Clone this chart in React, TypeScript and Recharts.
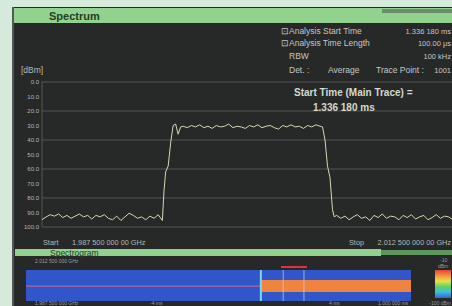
import { LineChart, Line, XAxis, YAxis, CartesianGrid, ComposedChart, ReferenceArea, ReferenceLine } from "recharts";

// frequency axis (MHz) and level axis (dBm)
const FREQ_TICKS = [1987.5, 1990, 1992.5, 1995, 1997.5, 2000, 2002.5, 2005, 2007.5, 2010, 2012.5];
const LEVEL_TICKS = [0, -10, -20, -30, -40, -50, -60, -70, -80, -90, -100];

// [freq MHz, level dBm]
const TRACE: [number, number][] = [
  [1987.5, -95], [1987.75, -93], [1988.0, -91.5], [1988.25, -92.5], [1988.5, -91], [1988.75, -93.5],
  [1989.0, -92], [1989.25, -94], [1989.5, -92.5], [1989.75, -91], [1990.0, -93], [1990.25, -92],
  [1990.5, -94.5], [1990.75, -92], [1991.0, -93], [1991.25, -91.5], [1991.5, -94], [1991.75, -95],
  [1992.0, -92.5], [1992.25, -95.5], [1992.5, -93], [1992.75, -90.5], [1993.0, -92], [1993.25, -94],
  [1993.5, -93], [1993.75, -95], [1994.0, -92.5], [1994.25, -94], [1994.5, -91.5], [1994.75, -95.5],
  [1994.85, -75], [1994.95, -62], [1995.1, -58], [1995.25, -42], [1995.4, -30], [1995.55, -29],
  [1995.7, -36], [1995.85, -31],
  [1996.0, -30.5], [1996.25, -31.5], [1996.5, -30], [1996.75, -31], [1997.0, -29.5], [1997.25, -31.5],
  [1997.5, -30.5], [1997.75, -32], [1998.0, -30], [1998.25, -31], [1998.5, -30.5], [1998.75, -29],
  [1999.0, -31.5], [1999.25, -30.5], [1999.5, -31], [1999.75, -32], [2000.0, -30], [2000.25, -31],
  [2000.5, -29.5], [2000.75, -31.5], [2001.0, -30.5], [2001.25, -30], [2001.5, -31.5], [2001.75, -32.5],
  [2002.0, -30], [2002.25, -31], [2002.5, -29.5], [2002.75, -31], [2003.0, -30.5], [2003.25, -32],
  [2003.5, -30], [2003.75, -31], [2004.0, -29.5], [2004.25, -30.5],
  [2004.4, -31], [2004.55, -40], [2004.7, -58], [2004.85, -66], [2005.0, -88], [2005.1, -93],
  [2005.25, -92], [2005.5, -94], [2005.75, -92.5], [2006.0, -95], [2006.25, -93], [2006.5, -91.5],
  [2006.75, -94], [2007.0, -93], [2007.25, -95.5], [2007.5, -92], [2007.75, -93.5], [2008.0, -91],
  [2008.25, -94], [2008.5, -92.5], [2008.75, -93], [2009.0, -95], [2009.25, -92], [2009.5, -93.5],
  [2009.75, -91.5], [2010.0, -94.5], [2010.25, -93], [2010.5, -92], [2010.75, -95], [2011.0, -93.5],
  [2011.25, -91.5], [2011.5, -94], [2011.75, -92.5], [2012.0, -93], [2012.25, -95], [2012.5, -92],
];

// spectrogram: time in % of the window, frequency as 0..1 of the span
const SPECTRO_EDGES = [0, 100];
const SIGNAL_ONSET = 61;
const SIGNAL_BAND = [0.29, 0.68];
const MARKERS = [66.8, 72.2];
const MARKER_SPAN = [66.2, 73.0];
const CENTER_LINE = 0.48;

const traceData = TRACE.map(([f, v]) => ({ f, v }));
const spectroData = SPECTRO_EDGES.map((t, i) => ({ t, y: i }));
const FONT = "'Liberation Sans', Arial, sans-serif";

export default function App() {
  return (
    <div style={{ position: "fixed", left: 0, top: 0, width: 452, height: 306, overflow: "hidden", background: "#d5eadb", fontFamily: FONT }}>
      {/* screen */}
      <div style={{ position: "absolute", left: 12, top: 7, width: 445, height: 300, background: "#272929", borderLeft: "2px solid #555857" }} />
      <div style={{ position: "absolute", left: 14, top: 8, width: 440, height: 15, background: "#93d18e" }} />
      <div style={{ position: "absolute", left: 382, top: 9, width: 70, height: 4, background: "#6c8d6b" }} />

      <div style={{ position: "absolute", left: 0, top: 0 }}>
        <LineChart width={470} height={240} data={traceData} margin={{ top: 82, right: 13, bottom: 13, left: 12 }}>
          <CartesianGrid stroke="#545756" strokeWidth={1} />
          <XAxis dataKey="f" type="number" domain={[1987.5, 2012.5]} ticks={FREQ_TICKS} height={0} tick={false} axisLine={false} tickLine={false} />
          <YAxis
            type="number"
            domain={[-100, 0]}
            ticks={LEVEL_TICKS}
            width={30}
            axisLine={false}
            tickLine={false}
            tickSize={0}
            tickMargin={3}
            tickFormatter={(v) => Math.abs(v).toFixed(1)}
            tick={{ fontSize: 6, fill: "#b4b8b4", fontFamily: FONT }}
          />
          <Line type="linear" dataKey="v" stroke="#d8d6b2" strokeWidth={1} dot={false} isAnimationActive={false} />
        </LineChart>
      </div>

      {/* spectrogram strip */}
      <div style={{ position: "absolute", left: 15, top: 249, width: 366, height: 7, background: "#93d18e" }} />
      <div style={{ position: "absolute", left: 381, top: 250, width: 71, height: 5, background: "#5d965a" }} />
      <div style={{ position: "absolute", left: 26, top: 270 }}>
        <ComposedChart width={385} height={31} data={spectroData} margin={{ top: 0, right: 0, bottom: 0, left: 0 }}>
          <XAxis dataKey="t" type="number" domain={[0, 100]} hide />
          <YAxis type="number" domain={[0, 1]} hide />
          <ReferenceArea x1={0} x2={100} y1={0} y2={1} fill="#3056c9" fillOpacity={1} stroke="none" />
          <ReferenceArea x1={SIGNAL_ONSET} x2={100} y1={SIGNAL_BAND[0]} y2={SIGNAL_BAND[1]} fill="#ef843f" fillOpacity={1} stroke="none" />
          <ReferenceArea x1={0} x2={SIGNAL_ONSET} y1={CENTER_LINE - 0.02} y2={CENTER_LINE + 0.02} fill="#d46a8e" fillOpacity={0.8} stroke="none" />
          <ReferenceLine x={SIGNAL_ONSET} stroke="#79dbe8" strokeWidth={2} />
          {MARKERS.map((m) => (
            <ReferenceLine key={m} x={m} stroke="#c9d2e8" strokeWidth={1} strokeOpacity={0.7} />
          ))}
          <Line dataKey="y" stroke="none" dot={false} isAnimationActive={false} />
        </ComposedChart>
      </div>
      <div style={{ position: "absolute", left: 26 + (385 * MARKER_SPAN[0]) / 100, top: 266, width: (385 * (MARKER_SPAN[1] - MARKER_SPAN[0])) / 100, height: 2, background: "#e03434" }} />
      <div style={{ position: "absolute", left: 435, top: 270, width: 16, height: 28, background: "linear-gradient(#e8403a, #f49a3a 22%, #e8e04a 40%, #5cd06a 60%, #3cc0d8 78%, #3a62d2)" }} />

      <svg width={452} height={306} style={{ position: "absolute", left: 0, top: 0 }} fontFamily={FONT}>
        <text x={49} y={20} fontSize={11} fontWeight="bold" fill="#21401f">Spectrum</text>
        <text x={21} y={73} fontSize={8.5} fill="#b4b8b4">[dBm]</text>

        <g fontSize={8.5} fill="#c4c8c4">
          <text x={281} y={34}>⊡Analysis Start Time</text>
          <text x={451} y={34} textAnchor="end" fontSize={7.5}>1.336 180 ms</text>
          <text x={281} y={46}>⊡Analysis Time Length</text>
          <text x={451} y={46} textAnchor="end" fontSize={7.5}>100.00 μs</text>
          <text x={289} y={59}>RBW</text>
          <text x={451} y={59} textAnchor="end" fontSize={7.5}>100 kHz</text>
          <text x={289} y={73}>Det. :</text>
          <text x={328} y={73}>Average</text>
          <text x={376} y={73}>Trace Point :</text>
          <text x={451} y={73} textAnchor="end" fontSize={7.5}>1001</text>
        </g>

        <g fontSize={10} fontWeight="bold" fill="#d4dacd">
          <text x={294} y={96}>Start Time (Main Trace) =</text>
          <text x={313} y={111}>1.336 180 ms</text>
        </g>

        <g fontSize={7.3} fill="#b4b8b4">
          <text x={43} y={245}>Start</text>
          <text x={72} y={245}>1.987 500 000 00 GHz</text>
          <text x={349} y={245}>Stop</text>
          <text x={451} y={245} textAnchor="end">2.012 500 000 00 GHz</text>
        </g>

        <text x={50} y={256} fontSize={8.5} fill="#21401f">Spectrogram</text>
        <g fontSize={5} fill="#9a9e9a">
          <text x={35} y={263}>2.012 500 000 GHz</text>
          <text x={35} y={305}>1.987 500 000 GHz</text>
          <text x={150} y={305}>-4 ms</text>
          <text x={329} y={305}>4 ms</text>
          <text x={378} y={305}>1.000 000 ms</text>
          <text x={440} y={262}>-10</text>
          <text x={438} y={268}>dBm</text>
          <text x={451} y={305} textAnchor="end">-100 dBm</text>
        </g>
      </svg>
    </div>
  );
}
